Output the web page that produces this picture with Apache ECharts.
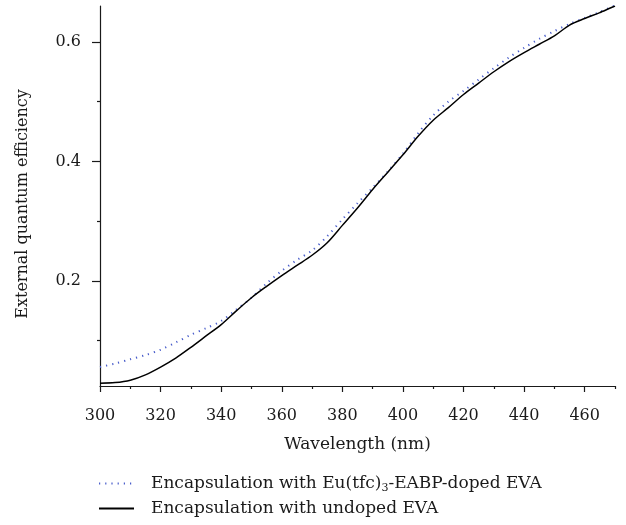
<!DOCTYPE html>
<html>
<head>
<meta charset="utf-8">
<script src="https://cdn.jsdelivr.net/npm/echarts@6/dist/echarts.min.js"></script>
<style>
  html, body { margin: 0; padding: 0; background: #fff; }
  #main { width: 626px; height: 525px; }
</style>
</head>
<body>
<div id="main"></div>
<script>
// wavelength (nm)
var wavelength = [300, 305, 310, 315, 320, 325, 330, 335, 340, 345, 350, 355, 360, 365, 370, 375, 380, 385,
  390, 395, 400, 405, 410, 415, 420, 425, 430, 435, 440, 445, 450, 455, 460, 465, 470];
// Eu(tfc)3-EABP-doped EVA
var dopedEqe = [0.056, 0.062, 0.069, 0.076, 0.085, 0.097, 0.110, 0.121, 0.133, 0.152, 0.172, 0.196, 0.217, 0.235,
  0.251, 0.275, 0.303, 0.330, 0.356, 0.383, 0.413, 0.447, 0.477, 0.500, 0.518, 0.537, 0.556, 0.574, 0.590, 0.605,
  0.618, 0.630, 0.640, 0.650, 0.661];
// undoped EVA
var undopedEqe = [0.029, 0.030, 0.034, 0.043, 0.056, 0.071, 0.089, 0.108, 0.127, 0.150, 0.172, 0.191, 0.209, 0.226,
  0.243, 0.264, 0.293, 0.322, 0.353, 0.382, 0.411, 0.442, 0.469, 0.490, 0.512, 0.531, 0.550, 0.567, 0.582, 0.596,
  0.610, 0.628, 0.639, 0.649, 0.660];
var xMajor = [300, 320, 340, 360, 380, 400, 420, 440, 460];
var xMinor = [310, 330, 350, 370, 390, 410, 430, 450, 470];
var yMajor = [0.2, 0.4, 0.6];
var yMinor = [0.1, 0.3, 0.5];
var seriesNames = ['Encapsulation with Eu(tfc)3-EABP-doped EVA', 'Encapsulation with undoped EVA'];

var font = 'DejaVu Serif';
var ink = '#1a1a1a';
var dotBlue = '#4a5ecb';

function pairs(xs, ys) {
  var out = [];
  for (var i = 0; i < xs.length; i++) {
    out.push([xs[i], ys[i]]);
  }
  return out;
}

// one legend block per row
function legendRow(name, top) {
  return {
    left: 98,
    top: top,
    padding: 0,
    itemWidth: 35,
    itemHeight: 14,
    textStyle: {
      fontFamily: font, fontSize: 17, color: ink, padding: [0, 0, 0, 12],
      rich: {
        sub: { fontFamily: font, fontSize: 11, color: ink, verticalAlign: 'bottom', padding: [9, 0, 0, 0] }
      }
    },
    formatter: function(n) {
      return n.replace('Eu(tfc)3', 'Eu(tfc){sub|3}');
    },
    data: [{ name: name, itemStyle: { opacity: 0 } }]
  };
}

var chart = echarts.init(document.getElementById('main'));
chart.setOption({
  animation: false,
  grid: { left: 100, right: 11, top: 6, bottom: 139 },
  xAxis: [{
    type: 'value',
    min: 300,
    max: 470,
    position: 'bottom',
    name: 'Wavelength (nm)',
    nameLocation: 'middle',
    nameGap: 50,
    nameTextStyle: { fontFamily: font, fontSize: 17, color: ink },
    axisLine: { lineStyle: { color: ink, width: 1.2 } },
    axisTick: { customValues: xMajor, length: 6, lineStyle: { color: ink, width: 1.2 } },
    axisLabel: { customValues: xMajor, margin: 22, fontFamily: font, fontSize: 16, color: ink },
    splitLine: { show: false }
  }, {
    type: 'value',
    min: 300,
    max: 470,
    position: 'bottom',
    offset: 0,
    axisLine: { show: false },
    axisTick: { customValues: xMinor, length: 3, lineStyle: { color: ink, width: 1.2 } },
    axisLabel: { show: false },
    splitLine: { show: false }
  }],
  yAxis: [{
    type: 'value',
    min: 0.0243,
    max: 0.66,
    position: 'left',
    name: 'External quantum efficiency',
    nameLocation: 'middle',
    nameGap: 69,
    nameTextStyle: { fontFamily: font, fontSize: 16, color: ink, padding: [0, 16, 0, 0] },
    axisLine: { show: true, lineStyle: { color: ink, width: 1.2 } },
    axisTick: { show: true, customValues: yMajor, length: 8, lineStyle: { color: ink, width: 1.2 } },
    axisLabel: { customValues: yMajor, margin: 19, fontFamily: font, fontSize: 16, color: ink },
    splitLine: { show: false }
  }, {
    type: 'value',
    min: 0.0243,
    max: 0.66,
    position: 'left',
    offset: 0,
    axisLine: { show: false },
    axisTick: { show: true, customValues: yMinor, length: 3, lineStyle: { color: ink, width: 1.2 } },
    axisLabel: { show: false },
    splitLine: { show: false }
  }],
  legend: [legendRow(seriesNames[0], 475), legendRow(seriesNames[1], 500)],
  series: [{
    name: seriesNames[0],
    type: 'line',
    showSymbol: false,
    smooth: 0.3,
    data: pairs(wavelength, dopedEqe),
    lineStyle: { color: dotBlue, width: 2, type: [1.2, 5] },
    itemStyle: { color: dotBlue }
  }, {
    name: seriesNames[1],
    type: 'line',
    showSymbol: false,
    smooth: 0.3,
    data: pairs(wavelength, undopedEqe),
    lineStyle: { color: '#000', width: 1.5 },
    itemStyle: { color: '#000' }
  }]
});
</script>
</body>
</html>
